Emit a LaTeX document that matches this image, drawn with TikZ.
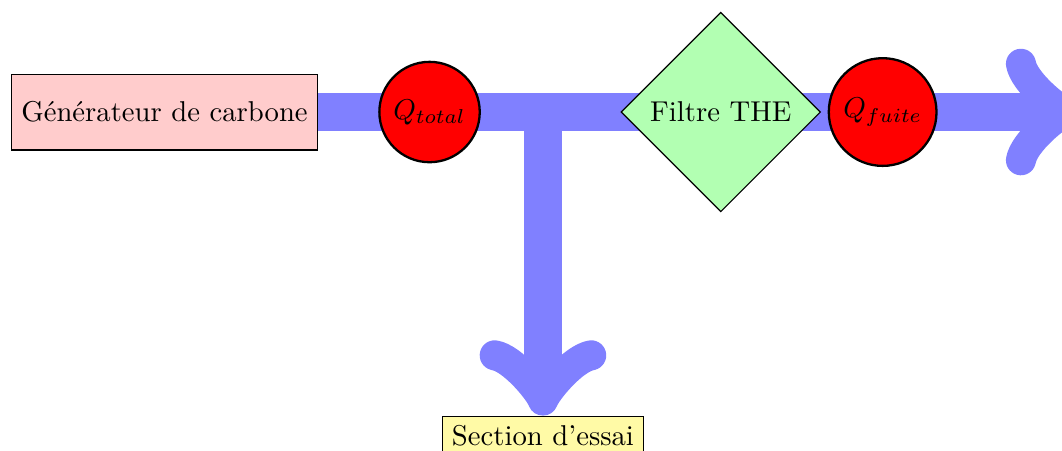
\documentclass[tikz,border=0pt]{standalone}
\usepackage{tikz}
\usetikzlibrary{positioning,shapes.geometric,backgrounds}
\tikzset{
  boite/.style={draw=black, rectangle, align=center, inner sep=3.33pt},
  source/.style={boite, fill=red!20, minimum height=0.93cm},
  essai/.style={boite, fill=yellow!35},
  debit/.style={circle, draw=black, thick, fill=red, inner sep=1pt},
  filtre/.style={diamond, draw=black, fill=green!30},
  flow/.style={line width=4.6mm, draw=blue!50},
  fleche/.style={flow, ->}
}
\begin{document}
\begin{tikzpicture}
  \useasboundingbox (0,1.373) rectangle (13.015,-4.154);

  \node[source] (gen) at (2.016,0) {Générateur de carbone};
  \node[debit, minimum size=1.23cm, right=0.74cm of gen] (qtot) {$Q_{total}$};
  \node[filtre, right=1.71cm of qtot] (the) {Filtre THE};
  \node[debit, minimum size=1.32cm, right=0.08cm of the] (qfuite) {$Q_{fuite}$};
  \coordinate (tee) at (6.654,0);
  \coordinate (sortie) at (13.25,0);
  \node[essai, below=3.72cm of tee] (section) {Section d'essai};

  % tuyauterie sous les noeuds
  \begin{scope}[on background layer]
    \draw[fleche] (gen.east) -- (qtot.center) -- (the.center) -- (qfuite.center) -- (sortie);
    \draw[fleche] (tee) -- (section);
  \end{scope}
\end{tikzpicture}
\end{document}
